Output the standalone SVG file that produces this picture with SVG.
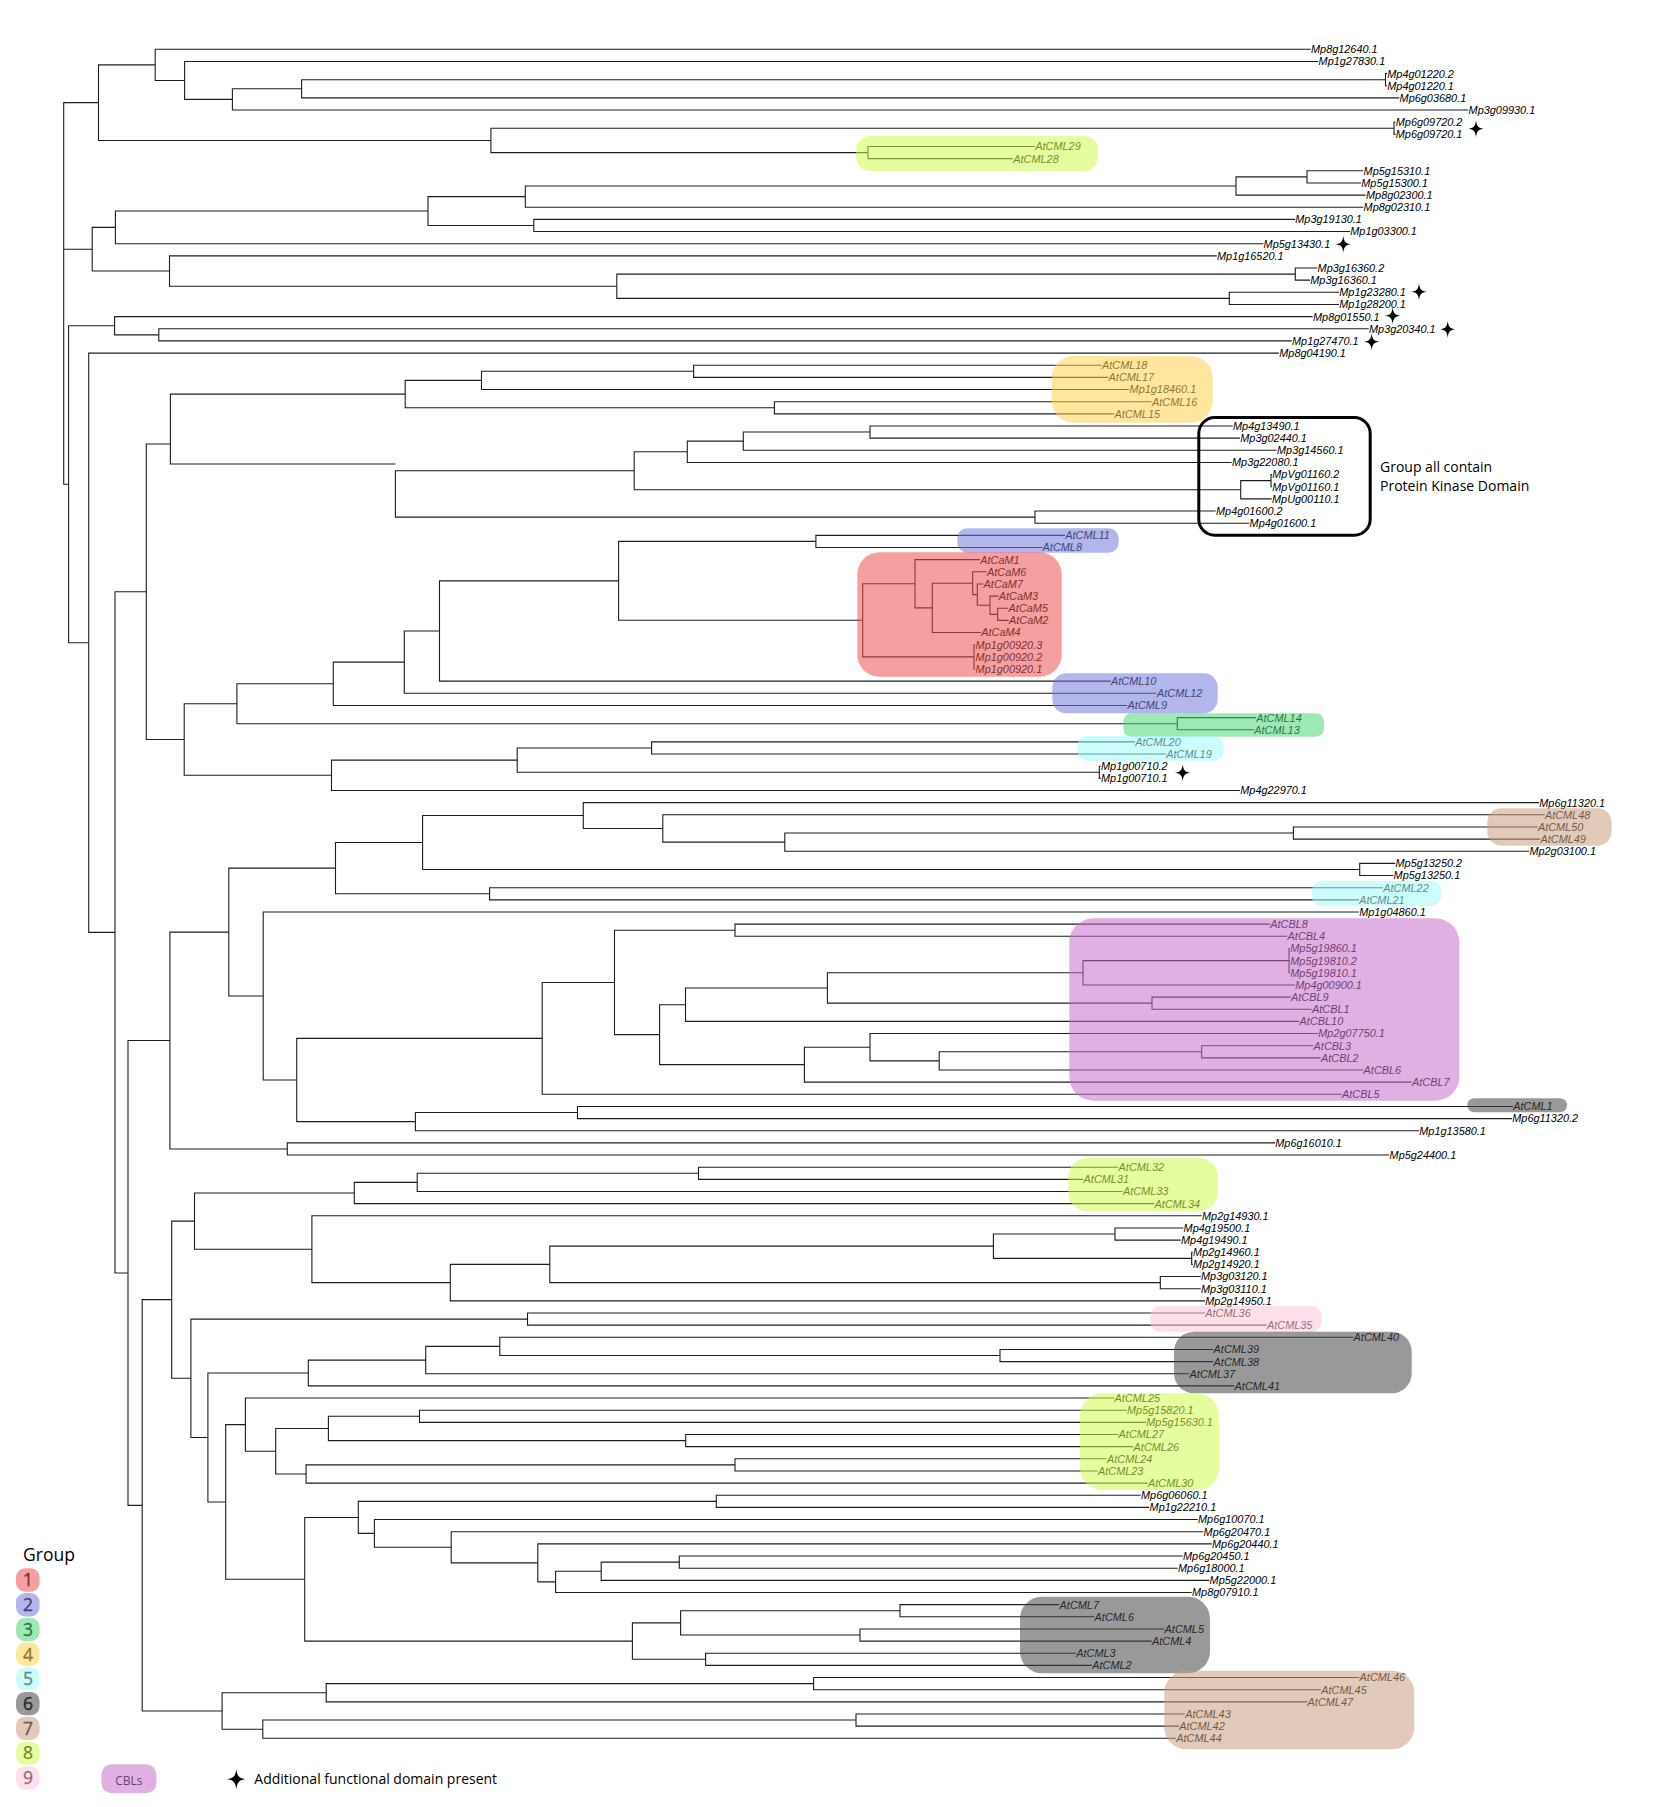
<svg xmlns="http://www.w3.org/2000/svg" width="1679" height="1807" viewBox="0 0 1679 1807">
<style>
.t{stroke:#1e1e1e;stroke-width:1.1;fill:none}
.lb{font-family:"Liberation Sans",Arial,sans-serif;font-style:italic;font-size:10.9px;fill:#000}
.hl{fill-opacity:.55}
.ui{font-family:"Open Sans","Liberation Sans",sans-serif;fill:#000}
.num{font-family:"Open Sans","Liberation Sans",sans-serif;font-size:17.5px;text-anchor:middle;fill:#000;stroke:#000;stroke-width:.35}
.red{fill:#EB5252}.blue{fill:#737AD9}.green{fill:#4FD577}.yellow{fill:#FFD24F}.cyan{fill:#A2FAFA}
.gray{fill:#464646}.brown{fill:#CA9F82}.yg{fill:#D0FB51}.pink{fill:#FBC7D9}.purple{fill:#C76FCA}
</style>
<defs>
<path id="star" d="M0-8.5C.6-2.4 2.4-.6 8 0C2.4.6.6 2.4 0 8.5C-.6 2.4-2.4.6-8 0C-2.4-.6-.6-2.4 0-8.5Z" fill="#000"/>
</defs>
<rect width="1679" height="1807" fill="#fff"/>

<!-- tree branches: one bracket per internal node -->
<g id="connectors" class="t">
<path d="M98.5 102.64H63.7V484.2H68.6M63.7 249.22H92.2"/>
<path d="M155.2 64.86H98.5V140.43H490.9"/>
<path d="M1310.7 49.3H155.2V80.44H184.6"/>
<path d="M1318.3 61.45H184.6V99.42H232.4"/>
<path d="M301.6 88.79H232.4V110.06H1468.3"/>
<path d="M1385.5 79.68H301.6V97.9H1399.3"/>
<path d="M1387 73.6H1385.5V85.75H1387"/>
<path d="M1394 128.28H490.9V152.58H868"/>
<path d="M1395.5 122.21H1394V134.36H1395.5"/>
<path d="M1035 146.51H868V158.66H1013"/>
<path d="M115.4 227.39H92.2V271.06H169.5"/>
<path d="M428 211.06H115.4V243.72H1263.3"/>
<path d="M525.3 196.63H428V225.49H533.8"/>
<path d="M1236 185.99H525.3V207.26H1363.3"/>
<path d="M1307 176.89H1236V195.11H1365.7"/>
<path d="M1363.3 170.81H1307V182.96H1361"/>
<path d="M1295 219.41H533.8V231.57H1350"/>
<path d="M1216.7 255.87H169.5V286.24H616.8"/>
<path d="M1295.3 274.09H616.8V298.4H1229.3"/>
<path d="M1317.3 268.02H1295.3V280.17H1310"/>
<path d="M1339 292.32H1229.3V304.47H1339"/>
<path d="M114.6 325.74H68.6V642.76H88.7"/>
<path d="M1312.7 316.62H114.6V334.85H158.8"/>
<path d="M1368.7 328.77H158.8V340.92H1291.7"/>
<path d="M1279 353.08H88.7V932.33H115"/>
<path d="M146.3 591.78H115V1272.96H128"/>
<path d="M170.4 444.01H146.3V739.55H184.2"/>
<path d="M405.2 394.09H170.4V463.95H395.4"/>
<path d="M481.5 380.41H405.2V407.76H774.4"/>
<path d="M693.6 371.3H481.5V389.53H1129.3"/>
<path d="M1101.7 365.23H693.6V377.38H1108.3"/>
<path d="M1151.7 401.68H774.4V413.83H1114.3"/>
<path d="M634.2 470.79H395.4V517.11H1035"/>
<path d="M687.3 451.8H634.2V489.77H1240.7"/>
<path d="M743.3 441.17H687.3V462.43H1231.7"/>
<path d="M870 432.06H743.3V450.28H1276.7"/>
<path d="M1232.7 425.98H870V438.13H1240"/>
<path d="M1271 480.66H1240.7V498.89H1271.7"/>
<path d="M1272 474.59H1271V486.74H1272"/>
<path d="M1215.7 511.04H1035V523.19H1249.3"/>
<path d="M236.9 703.74H184.2V775.32H331.5"/>
<path d="M333.3 683.81H236.9V723.68H1177.3"/>
<path d="M404.3 662.16H333.3V705.45H1127.3"/>
<path d="M439.5 631H404.3V693.3H1156.7"/>
<path d="M618.6 580.86H439.5V681.15H1110.7"/>
<path d="M815.9 541.42H618.6V620.3H862.7"/>
<path d="M1065 535.34H815.9V547.49H1042.3"/>
<path d="M915 583.76H862.7V656.85H974"/>
<path d="M980 559.64H915V607.87H932.3"/>
<path d="M972.7 583.19H932.3V632.55H981"/>
<path d="M986.7 571.79H972.7V594.58H977.3"/>
<path d="M983.3 583.94H977.3V605.21H990"/>
<path d="M998.5 596.1H990V614.33H997.7"/>
<path d="M1008.3 608.25H997.7V620.4H1008.7"/>
<path d="M975.3 644.7H974V669H975.3"/>
<path d="M1256 717.61H1177.3V729.76H1254"/>
<path d="M517.2 760.14H331.5V790.51H1240"/>
<path d="M651.6 747.99H517.2V772.28H1099.3"/>
<path d="M1135 741.91H651.6V754.06H1166"/>
<path d="M1100.7 766.21H1099.3V778.36H1100.7"/>
<path d="M169.9 1040.52H128V1505.4H142.2"/>
<path d="M228.8 932.09H169.9V1148.97H287.3"/>
<path d="M1275 1142.89H287.3V1155.04H1389.3"/>
<path d="M335.5 868.17H228.8V996.02H263.2"/>
<path d="M422.6 842.53H335.5V893.79H489.6"/>
<path d="M583.3 815.57H422.6V869.49H1359.7"/>
<path d="M1539 802.66H583.3V828.49H662.8"/>
<path d="M1544.6 814.81H662.8V842.15H784.8"/>
<path d="M1293.4 833.04H784.8V851.27H1529.1"/>
<path d="M1537.6 826.96H1293.4V839.12H1540.2"/>
<path d="M1395.2 863.42H1359.7V875.57H1393.3"/>
<path d="M1383 887.72H489.6V899.87H1358.9"/>
<path d="M1358.9 912.02H263.2V1080.04H296.7"/>
<path d="M542.2 1038.35H296.7V1121.63H415.4"/>
<path d="M614.5 982.45H542.2V1094.29H1341.7"/>
<path d="M735 930.25H614.5V1034.66H659.6"/>
<path d="M1270 924.17H735V936.32H1287.3"/>
<path d="M685.5 1004.68H659.6V1064.67H804.4"/>
<path d="M827.4 987.97H685.5V1021.38H1299.3"/>
<path d="M1083 972.78H827.4V1003.16H1152"/>
<path d="M1289 960.63H1083V984.93H1295"/>
<path d="M1290 948.47H1289V972.78H1290M1289 960.63H1290"/>
<path d="M1290.7 997.08H1152V1009.23H1311.7"/>
<path d="M870 1047.2H804.4V1082.14H1411.7"/>
<path d="M1318 1033.53H870V1060.87H939.2"/>
<path d="M1201.7 1051.76H939.2V1069.98H1363.3"/>
<path d="M1313.3 1045.68H1201.7V1057.83H1320.7"/>
<path d="M577.5 1112.52H415.4V1130.74H1419"/>
<path d="M1513 1106.44H577.5V1118.59H1512"/>
<path d="M171.7 1299.65H142.2V1710.95H222.1"/>
<path d="M194.5 1221.11H171.7V1378.26H190.9"/>
<path d="M354.3 1193.04H194.5V1249.21H311.9"/>
<path d="M417.2 1182.41H354.3V1203.65H1154.3"/>
<path d="M698.5 1173.27H417.2V1191.49H1122.7"/>
<path d="M1118.3 1167.19H698.5V1179.34H1083.3"/>
<path d="M1201.7 1215.8H311.9V1282.63H450.3"/>
<path d="M549.8 1264.4H450.3V1300.85H1205"/>
<path d="M993.4 1246.17H549.8V1282.63H1160.3"/>
<path d="M1115 1234.02H993.4V1258.33H1191.7"/>
<path d="M1183.3 1227.95H1115V1240.1H1180.7"/>
<path d="M1192.8 1252.25H1191.7V1264.4H1192.8"/>
<path d="M1200.7 1276.55H1160.3V1288.7H1200.7"/>
<path d="M527.5 1319.08H190.9V1437.45H207.9"/>
<path d="M1205 1313H527.5V1325.16H1266.7"/>
<path d="M308.3 1373.03H207.9V1502H225.7"/>
<path d="M425.7 1360.09H308.3V1385.91H1234.3"/>
<path d="M499.8 1346.42H425.7V1373.76H1189.3"/>
<path d="M1353.3 1337.31H499.8V1355.53H1000"/>
<path d="M1213.3 1349.46H1000V1361.61H1213.3"/>
<path d="M245.4 1424.66H225.7V1579.23H304.7"/>
<path d="M1114.3 1398.06H245.4V1451.22H275.7"/>
<path d="M328.4 1428.44H275.7V1474H306.1"/>
<path d="M419.5 1416.29H328.4V1440.59H685.7"/>
<path d="M1126.7 1410.21H419.5V1422.36H1146"/>
<path d="M1118.3 1434.51H685.7V1446.67H1133.3"/>
<path d="M735 1464.89H306.1V1483.12H1147.7"/>
<path d="M1106.7 1458.82H735V1470.97H1097.7"/>
<path d="M358.3 1517.43H304.7V1641.08H632.4"/>
<path d="M716.3 1501.35H358.3V1533.42H374.4"/>
<path d="M1140.7 1495.27H716.3V1507.42H1149.3"/>
<path d="M1197.7 1519.57H374.4V1547.27H451.2"/>
<path d="M1203.3 1531.72H451.2V1562.86H537.8"/>
<path d="M1211.7 1543.87H537.8V1581.85H555.6"/>
<path d="M601.2 1571.21H555.6V1592.48H1191.7"/>
<path d="M679.3 1562.1H601.2V1580.33H1209.3"/>
<path d="M1182.7 1556.02H679.3V1568.18H1177.7"/>
<path d="M680.6 1622.86H632.4V1659.31H705.6"/>
<path d="M900 1610.71H680.6V1635.01H860"/>
<path d="M1059.3 1604.63H900V1616.78H1094.3"/>
<path d="M1164.3 1628.93H860V1641.08H1151.7"/>
<path d="M1076 1653.23H705.6V1665.38H1092"/>
<path d="M326.2 1692.72H222.1V1729.18H262.8"/>
<path d="M813.6 1683.61H326.2V1701.84H1307.3"/>
<path d="M1359.3 1677.53H813.6V1689.69H1321"/>
<path d="M856 1720.07H262.8V1738.29H1176"/>
<path d="M1185 1713.99H856V1726.14H1179"/>
</g>

<!-- leaf labels -->
<g id="leaves" class="lb">
<g id="Mp8g12640_1"><text x="1311" y="53.2">Mp8g12640.1</text></g>
<g id="Mp1g27830_1"><text x="1318.6" y="65.35">Mp1g27830.1</text></g>
<g id="Mp4g01220_2"><text x="1387.3" y="77.5">Mp4g01220.2</text></g>
<g id="Mp4g01220_1"><text x="1387.3" y="89.65">Mp4g01220.1</text></g>
<g id="Mp6g03680_1"><text x="1399.6" y="101.8">Mp6g03680.1</text></g>
<g id="Mp3g09930_1"><text x="1468.6" y="113.96">Mp3g09930.1</text></g>
<g id="Mp6g09720_2"><text x="1395.8" y="126.11">Mp6g09720.2</text></g>
<g id="Mp6g09720_1"><text x="1395.8" y="138.26">Mp6g09720.1</text></g>
<g id="AtCML29"><text x="1035.3" y="150.41">AtCML29</text></g>
<g id="AtCML28"><text x="1013.3" y="162.56">AtCML28</text></g>
<g id="Mp5g15310_1"><text x="1363.6" y="174.71">Mp5g15310.1</text></g>
<g id="Mp5g15300_1"><text x="1361.3" y="186.86">Mp5g15300.1</text></g>
<g id="Mp8g02300_1"><text x="1366" y="199.01">Mp8g02300.1</text></g>
<g id="Mp8g02310_1"><text x="1363.6" y="211.16">Mp8g02310.1</text></g>
<g id="Mp3g19130_1"><text x="1295.3" y="223.31">Mp3g19130.1</text></g>
<g id="Mp1g03300_1"><text x="1350.3" y="235.47">Mp1g03300.1</text></g>
<g id="Mp5g13430_1"><text x="1263.6" y="247.62">Mp5g13430.1</text></g>
<g id="Mp1g16520_1"><text x="1217" y="259.77">Mp1g16520.1</text></g>
<g id="Mp3g16360_2"><text x="1317.6" y="271.92">Mp3g16360.2</text></g>
<g id="Mp3g16360_1"><text x="1310.3" y="284.07">Mp3g16360.1</text></g>
<g id="Mp1g23280_1"><text x="1339.3" y="296.22">Mp1g23280.1</text></g>
<g id="Mp1g28200_1"><text x="1339.3" y="308.37">Mp1g28200.1</text></g>
<g id="Mp8g01550_1"><text x="1313" y="320.52">Mp8g01550.1</text></g>
<g id="Mp3g20340_1"><text x="1369" y="332.67">Mp3g20340.1</text></g>
<g id="Mp1g27470_1"><text x="1292" y="344.82">Mp1g27470.1</text></g>
<g id="Mp8g04190_1"><text x="1279.3" y="356.98">Mp8g04190.1</text></g>
<g id="AtCML18"><text x="1102" y="369.13">AtCML18</text></g>
<g id="AtCML17"><text x="1108.6" y="381.28">AtCML17</text></g>
<g id="Mp1g18460_1"><text x="1129.6" y="393.43">Mp1g18460.1</text></g>
<g id="AtCML16"><text x="1152" y="405.58">AtCML16</text></g>
<g id="AtCML15"><text x="1114.6" y="417.73">AtCML15</text></g>
<g id="Mp4g13490_1"><text x="1233" y="429.88">Mp4g13490.1</text></g>
<g id="Mp3g02440_1"><text x="1240.3" y="442.03">Mp3g02440.1</text></g>
<g id="Mp3g14560_1"><text x="1277" y="454.18">Mp3g14560.1</text></g>
<g id="Mp3g22080_1"><text x="1232" y="466.33">Mp3g22080.1</text></g>
<g id="MpVg01160_2"><text x="1272.3" y="478.49">MpVg01160.2</text></g>
<g id="MpVg01160_1"><text x="1272.3" y="490.64">MpVg01160.1</text></g>
<g id="MpUg00110_1"><text x="1272" y="502.79">MpUg00110.1</text></g>
<g id="Mp4g01600_2"><text x="1216" y="514.94">Mp4g01600.2</text></g>
<g id="Mp4g01600_1"><text x="1249.6" y="527.09">Mp4g01600.1</text></g>
<g id="AtCML11"><text x="1065.3" y="539.24">AtCML11</text></g>
<g id="AtCML8"><text x="1042.6" y="551.39">AtCML8</text></g>
<g id="AtCaM1"><text x="980.3" y="563.54">AtCaM1</text></g>
<g id="AtCaM6"><text x="987" y="575.69">AtCaM6</text></g>
<g id="AtCaM7"><text x="983.6" y="587.84">AtCaM7</text></g>
<g id="AtCaM3"><text x="998.8" y="600">AtCaM3</text></g>
<g id="AtCaM5"><text x="1008.6" y="612.15">AtCaM5</text></g>
<g id="AtCaM2"><text x="1009" y="624.3">AtCaM2</text></g>
<g id="AtCaM4"><text x="981.3" y="636.45">AtCaM4</text></g>
<g id="Mp1g00920_3"><text x="975.6" y="648.6">Mp1g00920.3</text></g>
<g id="Mp1g00920_2"><text x="975.6" y="660.75">Mp1g00920.2</text></g>
<g id="Mp1g00920_1"><text x="975.6" y="672.9">Mp1g00920.1</text></g>
<g id="AtCML10"><text x="1111" y="685.05">AtCML10</text></g>
<g id="AtCML12"><text x="1157" y="697.2">AtCML12</text></g>
<g id="AtCML9"><text x="1127.6" y="709.35">AtCML9</text></g>
<g id="AtCML14"><text x="1256.3" y="721.51">AtCML14</text></g>
<g id="AtCML13"><text x="1254.3" y="733.66">AtCML13</text></g>
<g id="AtCML20"><text x="1135.3" y="745.81">AtCML20</text></g>
<g id="AtCML19"><text x="1166.3" y="757.96">AtCML19</text></g>
<g id="Mp1g00710_2"><text x="1101" y="770.11">Mp1g00710.2</text></g>
<g id="Mp1g00710_1"><text x="1101" y="782.26">Mp1g00710.1</text></g>
<g id="Mp4g22970_1"><text x="1240.3" y="794.41">Mp4g22970.1</text></g>
<g id="Mp6g11320_1"><text x="1539.3" y="806.56">Mp6g11320.1</text></g>
<g id="AtCML48"><text x="1544.9" y="818.71">AtCML48</text></g>
<g id="AtCML50"><text x="1537.9" y="830.86">AtCML50</text></g>
<g id="AtCML49"><text x="1540.5" y="843.02">AtCML49</text></g>
<g id="Mp2g03100_1"><text x="1529.4" y="855.17">Mp2g03100.1</text></g>
<g id="Mp5g13250_2"><text x="1395.5" y="867.32">Mp5g13250.2</text></g>
<g id="Mp5g13250_1"><text x="1393.6" y="879.47">Mp5g13250.1</text></g>
<g id="AtCML22"><text x="1383.3" y="891.62">AtCML22</text></g>
<g id="AtCML21"><text x="1359.2" y="903.77">AtCML21</text></g>
<g id="Mp1g04860_1"><text x="1359.2" y="915.92">Mp1g04860.1</text></g>
<g id="AtCBL8"><text x="1270.3" y="928.07">AtCBL8</text></g>
<g id="AtCBL4"><text x="1287.6" y="940.22">AtCBL4</text></g>
<g id="Mp5g19860_1"><text x="1290.3" y="952.37">Mp5g19860.1</text></g>
<g id="Mp5g19810_2"><text x="1290.3" y="964.53">Mp5g19810.2</text></g>
<g id="Mp5g19810_1"><text x="1290.3" y="976.68">Mp5g19810.1</text></g>
<g id="Mp4g00900_1"><text x="1295.3" y="988.83">Mp4g00900.1</text></g>
<g id="AtCBL9"><text x="1291" y="1000.98">AtCBL9</text></g>
<g id="AtCBL1"><text x="1312" y="1013.13">AtCBL1</text></g>
<g id="AtCBL10"><text x="1299.6" y="1025.28">AtCBL10</text></g>
<g id="Mp2g07750_1"><text x="1318.3" y="1037.43">Mp2g07750.1</text></g>
<g id="AtCBL3"><text x="1313.6" y="1049.58">AtCBL3</text></g>
<g id="AtCBL2"><text x="1321" y="1061.73">AtCBL2</text></g>
<g id="AtCBL6"><text x="1363.6" y="1073.88">AtCBL6</text></g>
<g id="AtCBL7"><text x="1412" y="1086.04">AtCBL7</text></g>
<g id="AtCBL5"><text x="1342" y="1098.19">AtCBL5</text></g>
<g id="AtCML1"><text x="1513.3" y="1110.34">AtCML1</text></g>
<g id="Mp6g11320_2"><text x="1512.3" y="1122.49">Mp6g11320.2</text></g>
<g id="Mp1g13580_1"><text x="1419.3" y="1134.64">Mp1g13580.1</text></g>
<g id="Mp6g16010_1"><text x="1275.3" y="1146.79">Mp6g16010.1</text></g>
<g id="Mp5g24400_1"><text x="1389.6" y="1158.94">Mp5g24400.1</text></g>
<g id="AtCML32"><text x="1118.6" y="1171.09">AtCML32</text></g>
<g id="AtCML31"><text x="1083.6" y="1183.24">AtCML31</text></g>
<g id="AtCML33"><text x="1123" y="1195.39">AtCML33</text></g>
<g id="AtCML34"><text x="1154.6" y="1207.55">AtCML34</text></g>
<g id="Mp2g14930_1"><text x="1202" y="1219.7">Mp2g14930.1</text></g>
<g id="Mp4g19500_1"><text x="1183.6" y="1231.85">Mp4g19500.1</text></g>
<g id="Mp4g19490_1"><text x="1181" y="1244">Mp4g19490.1</text></g>
<g id="Mp2g14960_1"><text x="1193.1" y="1256.15">Mp2g14960.1</text></g>
<g id="Mp2g14920_1"><text x="1193.1" y="1268.3">Mp2g14920.1</text></g>
<g id="Mp3g03120_1"><text x="1201" y="1280.45">Mp3g03120.1</text></g>
<g id="Mp3g03110_1"><text x="1201" y="1292.6">Mp3g03110.1</text></g>
<g id="Mp2g14950_1"><text x="1205.3" y="1304.75">Mp2g14950.1</text></g>
<g id="AtCML36"><text x="1205.3" y="1316.9">AtCML36</text></g>
<g id="AtCML35"><text x="1267" y="1329.06">AtCML35</text></g>
<g id="AtCML40"><text x="1353.6" y="1341.21">AtCML40</text></g>
<g id="AtCML39"><text x="1213.6" y="1353.36">AtCML39</text></g>
<g id="AtCML38"><text x="1213.6" y="1365.51">AtCML38</text></g>
<g id="AtCML37"><text x="1189.6" y="1377.66">AtCML37</text></g>
<g id="AtCML41"><text x="1234.6" y="1389.81">AtCML41</text></g>
<g id="AtCML25"><text x="1114.6" y="1401.96">AtCML25</text></g>
<g id="Mp5g15820_1"><text x="1127" y="1414.11">Mp5g15820.1</text></g>
<g id="Mp5g15630_1"><text x="1146.3" y="1426.26">Mp5g15630.1</text></g>
<g id="AtCML27"><text x="1118.6" y="1438.41">AtCML27</text></g>
<g id="AtCML26"><text x="1133.6" y="1450.57">AtCML26</text></g>
<g id="AtCML24"><text x="1107" y="1462.72">AtCML24</text></g>
<g id="AtCML23"><text x="1098" y="1474.87">AtCML23</text></g>
<g id="AtCML30"><text x="1148" y="1487.02">AtCML30</text></g>
<g id="Mp6g06060_1"><text x="1141" y="1499.17">Mp6g06060.1</text></g>
<g id="Mp1g22210_1"><text x="1149.6" y="1511.32">Mp1g22210.1</text></g>
<g id="Mp6g10070_1"><text x="1198" y="1523.47">Mp6g10070.1</text></g>
<g id="Mp6g20470_1"><text x="1203.6" y="1535.62">Mp6g20470.1</text></g>
<g id="Mp6g20440_1"><text x="1212" y="1547.77">Mp6g20440.1</text></g>
<g id="Mp6g20450_1"><text x="1183" y="1559.92">Mp6g20450.1</text></g>
<g id="Mp6g18000_1"><text x="1178" y="1572.08">Mp6g18000.1</text></g>
<g id="Mp5g22000_1"><text x="1209.6" y="1584.23">Mp5g22000.1</text></g>
<g id="Mp8g07910_1"><text x="1192" y="1596.38">Mp8g07910.1</text></g>
<g id="AtCML7"><text x="1059.6" y="1608.53">AtCML7</text></g>
<g id="AtCML6"><text x="1094.6" y="1620.68">AtCML6</text></g>
<g id="AtCML5"><text x="1164.6" y="1632.83">AtCML5</text></g>
<g id="AtCML4"><text x="1152" y="1644.98">AtCML4</text></g>
<g id="AtCML3"><text x="1076.3" y="1657.13">AtCML3</text></g>
<g id="AtCML2"><text x="1092.3" y="1669.28">AtCML2</text></g>
<g id="AtCML46"><text x="1359.6" y="1681.43">AtCML46</text></g>
<g id="AtCML45"><text x="1321.3" y="1693.59">AtCML45</text></g>
<g id="AtCML47"><text x="1307.6" y="1705.74">AtCML47</text></g>
<g id="AtCML43"><text x="1185.3" y="1717.89">AtCML43</text></g>
<g id="AtCML42"><text x="1179.3" y="1730.04">AtCML42</text></g>
<g id="AtCML44"><text x="1176.3" y="1742.19">AtCML44</text></g>
</g>

<!-- group highlights, laid translucently over branches and labels -->
<g id="highlights" class="hl">
<rect class="yg" x="856.2" y="136" width="242" height="35" rx="14"/>
<rect class="yellow" x="1051.7" y="356" width="161" height="66.7" rx="22"/>
<rect class="blue" x="957.3" y="528.3" width="161.4" height="24.4" rx="10"/>
<rect class="red" x="857.3" y="552.3" width="204.4" height="124.4" rx="22"/>
<rect class="blue" x="1052.3" y="673.3" width="165.4" height="40" rx="14"/>
<rect class="green" x="1123.3" y="713.3" width="200.7" height="23.4" rx="8"/>
<rect class="cyan" x="1077.3" y="736" width="146.4" height="24.7" rx="10"/>
<rect class="brown" x="1487.3" y="808.3" width="124.3" height="37.4" rx="14"/>
<rect class="cyan" x="1311.6" y="881" width="129.8" height="24.7" rx="10"/>
<rect class="purple" x="1069.3" y="918.3" width="390" height="182.4" rx="24"/>
<rect class="gray" x="1467.3" y="1098.3" width="99.7" height="14" rx="7"/>
<rect class="yg" x="1068.3" y="1158.3" width="149.4" height="52.7" rx="18"/>
<rect class="pink" x="1150.3" y="1306" width="171.4" height="25.7" rx="10"/>
<rect class="gray" x="1174" y="1331.7" width="237.7" height="61.6" rx="20"/>
<rect class="yg" x="1080" y="1393.3" width="139" height="96.7" rx="22"/>
<rect class="gray" x="1020" y="1596.7" width="190" height="76.6" rx="22"/>
<rect class="brown" x="1164.3" y="1670.7" width="250" height="78.6" rx="22"/>
</g>

<!-- kinase-domain clade outline and note -->
<g id="kinase-group">
<rect x="1198.8" y="417.5" width="171.4" height="117.7" rx="16" fill="none" stroke="#000" stroke-width="3"/>
<text class="ui" x="1380" y="471.5" font-size="14">Group all contain</text>
<text class="ui" x="1380" y="490.5" font-size="14">Protein Kinase Domain</text>
</g>

<!-- additional-domain markers -->
<g id="domain-markers">
<use href="#star" x="1476" y="128.7"/>
<use href="#star" x="1343.3" y="244.3"/>
<use href="#star" x="1419" y="291.7"/>
<use href="#star" x="1392.7" y="315.7"/>
<use href="#star" x="1447.7" y="329.3"/>
<use href="#star" x="1371.7" y="341.7"/>
<use href="#star" x="1182.7" y="772.7"/>
</g>

<!-- legend -->
<g id="legend">
<text class="ui" x="23" y="1560.5" font-size="17.5">Group</text>
<text class="num" x="27.9" y="1586.3">1</text>
<text class="num" x="27.9" y="1611">2</text>
<text class="num" x="27.9" y="1635.8">3</text>
<text class="num" x="27.9" y="1660.5">4</text>
<text class="num" x="27.9" y="1685.2">5</text>
<text class="num" x="27.9" y="1709.9">6</text>
<text class="num" x="27.9" y="1734.7">7</text>
<text class="num" x="27.9" y="1759.4">8</text>
<text class="num" x="27.9" y="1784.1">9</text>
<text class="ui" x="128.9" y="1784.5" font-size="12" text-anchor="middle">CBLs</text>
<g class="hl">
<rect class="red" x="16" y="1568.3" width="23.6" height="23.4" rx="9"/>
<rect class="blue" x="16" y="1593" width="23.6" height="23.4" rx="9"/>
<rect class="green" x="16" y="1617.8" width="23.6" height="23.4" rx="9"/>
<rect class="yellow" x="16" y="1642.5" width="23.6" height="23.4" rx="9"/>
<rect class="cyan" x="16" y="1667.2" width="23.6" height="23.4" rx="9"/>
<rect class="gray" x="16" y="1691.9" width="23.6" height="23.4" rx="9"/>
<rect class="brown" x="16" y="1716.7" width="23.6" height="23.4" rx="9"/>
<rect class="yg" x="16" y="1741.4" width="23.6" height="23.4" rx="9"/>
<rect class="pink" x="16" y="1766.1" width="23.6" height="23.4" rx="9"/>
<rect class="purple" x="101.4" y="1764.3" width="55" height="29" rx="10"/>
</g>
<use href="#star" transform="translate(236.3 1779.3) scale(1.2)"/>
<text class="ui" x="254.3" y="1784.3" font-size="14">Additional functional domain present</text>
</g>
</svg>
